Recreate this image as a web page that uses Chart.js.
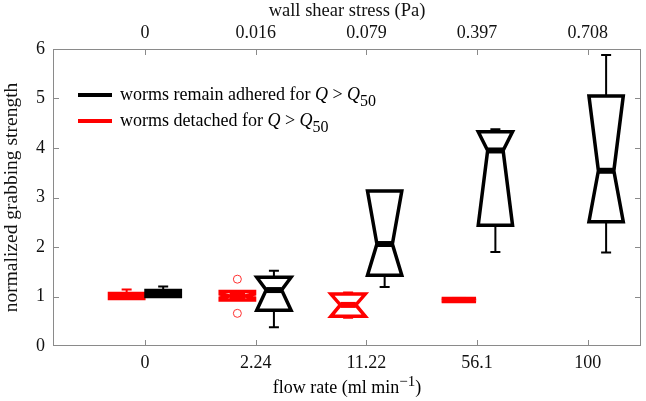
<!DOCTYPE html>
<html>
<head>
<meta charset="utf-8">
<script src="https://cdn.jsdelivr.net/npm/chart.js@4/dist/chart.umd.min.js"></script>
<style>
  body { margin: 0; background: #fff; }
  #wrap { width: 646px; height: 401px; }
</style>
</head>
<body>
<div id="wrap"><canvas id="myChart"></canvas></div>
<script>
const flowRates = ['0', '2.24', '11.22', '56.1', '100'];
const shearStress = ['0', '0.016', '0.079', '0.397', '0.708'];
const positions = [1, 2, 3, 4, 5];

// worms remain adhered for Q > Q50 (black)
const adheredMin = [1.00, 0.38, 1.19, 1.90, 1.89];
const adheredQ1 = [1.00, 0.72, 1.43, 2.44, 2.51];
const adheredMed = [1.07, 1.13, 2.06, 3.95, 3.54];
const adheredQ3 = [1.12, 1.39, 3.13, 4.33, 5.05];
const adheredMax = [1.20, 1.52, 3.13, 4.38, 5.88];
const adheredNotchLo = [1.04, 0.72, 1.43, 2.44, 2.51];
const adheredNotchHi = [1.10, 1.39, 3.13, 4.33, 5.05];

// worms detached for Q > Q50 (red), none left at 100
const detachedMin = [0.96, 0.93, 0.57, 0.90, null];
const detachedQ1 = [0.96, 0.93, 0.60, 0.90, null];
const detachedMed = [1.01, 1.01, 0.83, 0.93, null];
const detachedQ3 = [1.06, 1.10, 1.05, 0.96, null];
const detachedMax = [1.14, 1.10, 1.08, 0.96, null];
const detachedNotchLo = [0.98, 0.97, 0.60, 0.90, null];
const detachedNotchHi = [1.04, 1.05, 1.05, 0.96, null];
const detachedOutliers = [[], [1.35, 0.66], [], [], []];

const legendLabels = ['worms remain adhered for ', 'worms detached for '];

const serif = '"Liberation Serif", "Times New Roman", serif';
const redOffset = -0.165;
const blackOffset = 0.165;

let outlierPoints = [];
detachedOutliers.forEach((vals, i) => {
    for (let v of vals) {
        outlierPoints.push({x: positions[i] + redOffset, y: v});
    }
});

function richText(ctx, x, y, parts, align) {
    let total = 0;
    for (let p of parts) {
        ctx.font = (p.italic ? 'italic ' : '') + p.size + 'px ' + serif;
        p.w = ctx.measureText(p.t).width;
        total += p.w;
    }
    let cx = align === 'center' ? x - total / 2 : x;
    for (let p of parts) {
        ctx.font = (p.italic ? 'italic ' : '') + p.size + 'px ' + serif;
        ctx.fillText(p.t, cx, y + (p.dy || 0));
        cx += p.w;
    }
}

function drawSeries(chart, mins, q1s, meds, q3s, maxs, nlos, nhis, offset, color) {
    const ctx = chart.ctx;
    const xs = chart.scales.x, ys = chart.scales.y;
    positions.forEach((p, i) => {
        if (meds[i] === null) return;
        const cx = xs.getPixelForValue(p + offset);
        const half = xs.getPixelForValue(p + offset + 0.155) - cx;
        const inset = half * 0.55;
        const yMin = ys.getPixelForValue(mins[i]);
        const yQ1 = ys.getPixelForValue(q1s[i]);
        const yMed = ys.getPixelForValue(meds[i]);
        const yQ3 = ys.getPixelForValue(q3s[i]);
        const yMax = ys.getPixelForValue(maxs[i]);
        const yLo = ys.getPixelForValue(Math.max(nlos[i], q1s[i]));
        const yHi = ys.getPixelForValue(Math.min(nhis[i], q3s[i]));

        ctx.strokeStyle = color;
        // whiskers
        ctx.lineWidth = 2;
        if (maxs[i] > q3s[i]) {
            ctx.beginPath();
            ctx.moveTo(cx, yQ3); ctx.lineTo(cx, yMax);
            ctx.moveTo(cx - 5, yMax); ctx.lineTo(cx + 5, yMax);
            ctx.stroke();
        }
        if (mins[i] < q1s[i]) {
            ctx.beginPath();
            ctx.moveTo(cx, yQ1); ctx.lineTo(cx, yMin);
            ctx.moveTo(cx - 5, yMin); ctx.lineTo(cx + 5, yMin);
            ctx.stroke();
        }
        // notched box
        ctx.lineWidth = 3.5;
        ctx.lineJoin = 'miter';
        ctx.beginPath();
        ctx.moveTo(cx - half, yQ3);
        ctx.lineTo(cx - half, yHi);
        ctx.lineTo(cx - half + inset, yMed);
        ctx.lineTo(cx - half, yLo);
        ctx.lineTo(cx - half, yQ1);
        ctx.lineTo(cx + half, yQ1);
        ctx.lineTo(cx + half, yLo);
        ctx.lineTo(cx + half - inset, yMed);
        ctx.lineTo(cx + half, yHi);
        ctx.lineTo(cx + half, yQ3);
        ctx.closePath();
        ctx.stroke();
        // median
        ctx.lineWidth = 6;
        ctx.beginPath();
        ctx.moveTo(cx - half + inset, yMed);
        ctx.lineTo(cx + half - inset, yMed);
        ctx.stroke();
    });
}

const boxPlugin = {
    id: 'notchedBoxes',
    afterDatasetsDraw(chart) {
        const ctx = chart.ctx;
        const a = chart.chartArea;
        const xs = chart.scales.x, ys = chart.scales.y;
        ctx.save();
        // frame and inward ticks
        ctx.strokeStyle = '#8a8a8a';
        ctx.lineWidth = 1;
        ctx.strokeRect(a.left + 0.5, a.top + 0.5, a.right - a.left - 1, a.bottom - a.top - 1);
        ctx.beginPath();
        positions.forEach(p => {
            const px = Math.round(xs.getPixelForValue(p)) + 0.5;
            ctx.moveTo(px, a.bottom); ctx.lineTo(px, a.bottom - 6);
            ctx.moveTo(px, a.top); ctx.lineTo(px, a.top + 6);
        });
        for (let v = 1; v < 6; v++) {
            const py = Math.round(ys.getPixelForValue(v)) + 0.5;
            ctx.moveTo(a.left, py); ctx.lineTo(a.left + 6, py);
            ctx.moveTo(a.right, py); ctx.lineTo(a.right - 6, py);
        }
        ctx.stroke();

        drawSeries(chart, detachedMin, detachedQ1, detachedMed, detachedQ3, detachedMax,
            detachedNotchLo, detachedNotchHi, redOffset, '#ff0000');
        drawSeries(chart, adheredMin, adheredQ1, adheredMed, adheredQ3, adheredMax,
            adheredNotchLo, adheredNotchHi, blackOffset, '#000000');

        // legend
        const colors = ['#000000', '#ff0000'];
        const rows = [100, 126];
        ctx.lineWidth = 4;
        ctx.textBaseline = 'alphabetic';
        ctx.fillStyle = '#000';
        legendLabels.forEach((lab, k) => {
            ctx.strokeStyle = colors[k];
            ctx.beginPath();
            ctx.moveTo(78, rows[k] - 5); ctx.lineTo(112, rows[k] - 5);
            ctx.stroke();
            richText(ctx, 120, rows[k], [
                {t: lab, size: 18},
                {t: 'Q', size: 18, italic: true},
                {t: ' > ', size: 18},
                {t: 'Q', size: 18, italic: true},
                {t: '50', size: 16, dy: 6}
            ]);
        });

        // bottom axis title
        richText(ctx, (a.left + a.right) / 2, 393, [
            {t: 'flow rate (ml min', size: 18},
            {t: '\u22121', size: 15, dy: -7},
            {t: ')', size: 18}
        ], 'center');
        ctx.restore();
    }
};

const config = {
    type: 'scatter',
    data: {
        datasets: [{
            label: 'outliers',
            data: outlierPoints,
            pointStyle: 'circle',
            pointRadius: 4,
            pointBorderWidth: 1,
            borderColor: '#ff3030',
            backgroundColor: 'rgba(0,0,0,0)'
        }]
    },
    options: {
        responsive: true,
        maintainAspectRatio: false,
        animation: false,
        layout: { padding: { left: 0, right: 3, top: 0, bottom: 0 } },
        plugins: {
            legend: { display: false },
            tooltip: { enabled: false }
        },
        scales: {
            x: {
                type: 'linear',
                position: 'bottom',
                min: 0.17,
                max: 5.48,
                afterBuildTicks: s => { s.ticks = positions.map(v => ({value: v})); },
                afterFit: s => { s.height = 55; },
                grid: { display: false, drawTicks: false },
                border: { display: false },
                ticks: {
                    padding: 6,
                    color: '#111',
                    font: { family: serif, size: 18 },
                    callback: v => flowRates[positions.indexOf(v)]
                }
            },
            x2: {
                type: 'linear',
                position: 'top',
                min: 0.17,
                max: 5.48,
                afterBuildTicks: s => { s.ticks = positions.map(v => ({value: v})); },
                afterFit: s => { s.height = 49; },
                grid: { display: false, drawTicks: false },
                border: { display: false },
                title: {
                    display: true,
                    text: 'wall shear stress (Pa)',
                    color: '#111',
                    font: { family: serif, size: 18.5 },
                    padding: { top: 0, bottom: 0 }
                },
                ticks: {
                    padding: 5,
                    color: '#111',
                    font: { family: serif, size: 18 },
                    callback: v => shearStress[positions.indexOf(v)]
                }
            },
            y: {
                min: 0,
                max: 6,
                afterFit: s => { s.width = 53; },
                grid: { display: false, drawTicks: false },
                border: { display: false },
                title: {
                    display: true,
                    text: 'normalized grabbing strength',
                    color: '#111',
                    font: { family: serif, size: 19.5 },
                    padding: { top: 0, bottom: 3 }
                },
                ticks: {
                    stepSize: 1,
                    padding: 8,
                    color: '#111',
                    font: { family: serif, size: 18 }
                }
            }
        }
    },
    plugins: [boxPlugin]
};

var myChart = new Chart(document.getElementById('myChart'), config);
</script>
</body>
</html>
